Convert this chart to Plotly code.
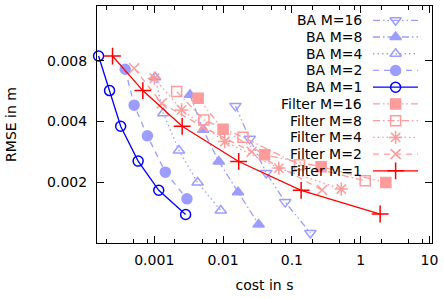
import plotly.graph_objects as go

# ---------------- data ----------------
series_names = ["BA M=16", "BA M=8", "BA M=4", "BA M=2", "BA M=1",
                "Filter M=16", "Filter M=8", "Filter M=4", "Filter M=2", "Filter M=1"]

ba16_cost = [0.01512, 0.02434, 0.04246, 0.0800, 0.1858]
ba16_rmse = [0.00478, 0.003286, 0.00223, 0.0016, 0.001125]
ba8_cost = [0.0033, 0.00513, 0.00867, 0.01648, 0.03285]
ba8_rmse = [0.00542, 0.00364, 0.00254, 0.00179, 0.00124]
ba4_cost = [0.001027, 0.001354, 0.002285, 0.00426, 0.00926]
ba4_rmse = [0.00662, 0.0044, 0.00288, 0.0020, 0.001455]
ba2_cost = [0.000378, 0.00051, 0.000795, 0.001448, 0.002984]
ba2_rmse = [0.00725, 0.00482, 0.0034, 0.00225, 0.00166]
ba1_cost = [0.0001552, 0.000224, 0.000325, 0.000583, 0.001162, 0.002857]
ba1_rmse = [0.00843, 0.00569, 0.00379, 0.00255, 0.00183, 0.00139]

f16_cost = [0.004346, 0.01, 0.0401, 0.2655, 2.316]
f16_rmse = [0.005217, 0.00366, 0.00274, 0.00239, 0.0020]
f8_cost = [0.002116, 0.00526, 0.01947, 0.1288, 1.162]
f8_rmse = [0.005623, 0.004076, 0.00335, 0.002445, 0.002039]
f4_cost = [0.001003, 0.0025, 0.01058, 0.0646, 0.522]
f4_rmse = [0.006546, 0.004568, 0.003186, 0.002355, 0.001856]
f2_cost = [0.00051, 0.001284, 0.00508, 0.026, 0.2745]
f2_rmse = [0.00733, 0.00493, 0.003766, 0.002835, 0.001835]
f1_cost = [0.0002475, 0.000682, 0.002542, 0.01687, 0.1363, 1.915]
f1_rmse = [0.00843, 0.00569, 0.00379, 0.00254, 0.00183, 0.001397]

x_tickvals = [0.001, 0.01, 0.1, 1, 10]
x_ticktext = ["0.001", "0.01", "0.1", "1", "10"]
x_minor_vals = [m * 10.0 ** e for e in range(-4, 2) for m in (2, 5, 8)]
y_tickvals = [0.002, 0.004, 0.008]
y_ticktext = ["0.002", "0.004", "0.008"]

costs = [ba16_cost, ba8_cost, ba4_cost, ba2_cost, ba1_cost,
         f16_cost, f8_cost, f4_cost, f2_cost, f1_cost]
rmses = [ba16_rmse, ba8_rmse, ba4_rmse, ba2_rmse, ba1_rmse,
         f16_rmse, f8_rmse, f4_rmse, f2_rmse, f1_rmse]

# ---------------- styles ----------------
LB = "#9d9dff"
BL = "#0000ff"
LR = "#ff9b9b"
RD = "#ff0000"
DDD = "7px,3px,1.5px,3px,1.5px,3px"
DD = "7px,3px,1.5px,3px"
DOT = "1.5px,3px"
DASH = "6px,5px"
styles = [
    dict(color=LB, dash=DDD, symbol="triangle-down-open", size=10),
    dict(color=LB, dash=DD, symbol="triangle-up", size=10),
    dict(color=LB, dash=DOT, symbol="triangle-up-open", size=10),
    dict(color=LB, dash=DASH, symbol="circle", size=10),
    dict(color=BL, dash="solid", symbol="circle-open", size=10),
    dict(color=LR, dash=DDD, symbol="square", size=10),
    dict(color=LR, dash=DD, symbol="square-open", size=10),
    dict(color=LR, dash=DOT, symbol="asterisk-open", size=11),
    dict(color=LR, dash=DASH, symbol="x-thin-open", size=10),
    dict(color=RD, dash="solid", symbol="cross-thin-open", size=12),
]

XR = [-3.832, 1.036]
YR = [-2.998, -1.827]

fig = go.Figure()
for name, xs, ys, st in zip(series_names, costs, rmses, styles):
    fig.add_trace(go.Scatter(
        x=xs, y=ys, name=name, mode="lines+markers", showlegend=False,
        cliponaxis=False,
        line=dict(color=st["color"], dash=st["dash"], width=1.3),
        marker=dict(symbol=st["symbol"], size=st["size"], color=st["color"],
                    line=dict(color=st["color"], width=1.5)),
    ))

# ---------------- manual gnuplot-style legend (text left, sample right) ----------------
L, R, T, B = 97, 432, 6, 243.3
PW, PH = R - L, B - T
def fx(px):
    return (px - L) / PW
def fy(py):
    return 1 - (py - T) / PH

for i, (name, st) in enumerate(zip(series_names, styles)):
    py = 20.3 + 16.75 * i
    fig.add_shape(type="line", xref="paper", yref="paper",
                  x0=fx(373), x1=fx(418), y0=fy(py), y1=fy(py),
                  line=dict(color=st["color"], dash=st["dash"], width=1.3))
    # legend marker placed at the paper position (converted to the log axes)
    mx = 10 ** (XR[0] + fx(395.6) * (XR[1] - XR[0]))
    my = 10 ** (YR[0] + fy(py) * (YR[1] - YR[0]))
    fig.add_trace(go.Scatter(
        x=[mx], y=[my], mode="markers", showlegend=False, hoverinfo="skip",
        cliponaxis=False,
        marker=dict(symbol=st["symbol"], size=st["size"], color=st["color"],
                    line=dict(color=st["color"], width=1.5))))
    fig.add_annotation(text=name, xref="paper", yref="paper", x=fx(364), y=fy(py),
                       xanchor="right", yanchor="middle", showarrow=False,
                       font=dict(size=14, color="#000000"))

axis_common = dict(showline=True, linecolor="black", linewidth=1, mirror="allticks",
                   ticks="inside", tickcolor="black", ticklen=7, tickwidth=1,
                   showgrid=False, zeroline=False, automargin=False,
                   tickfont=dict(size=14, color="#000000"))

fig.update_layout(
    width=444, height=299,
    margin=dict(l=L, r=444 - R, t=T, b=299 - B),
    paper_bgcolor="white", plot_bgcolor="white",
    font=dict(family="DejaVu Sans", size=14, color="#000000"),
    showlegend=False,
    xaxis=dict(type="log", range=XR, tickmode="array",
               tickvals=x_tickvals, ticktext=x_ticktext,
               ticklabeloverflow="allow",
               minor=dict(tickmode="array", tickvals=x_minor_vals, ticks="inside",
                          ticklen=4, tickcolor="black", showgrid=False),
               title=dict(text="cost in s", standoff=13, font=dict(size=14)),
               ticklabelstandoff=4,
               **axis_common),
    yaxis=dict(type="log", range=YR, tickmode="array",
               tickvals=y_tickvals, ticktext=y_ticktext,
               title=dict(text="RMSE in m", standoff=27, font=dict(size=14)),
               ticklabelstandoff=6,
               **axis_common),
)

fig.write_html("out.html",
               config={"displayModeBar": False, "staticPlot": True},
               post_script="document.body.style.margin='0';document.body.style.overflow='hidden';")
